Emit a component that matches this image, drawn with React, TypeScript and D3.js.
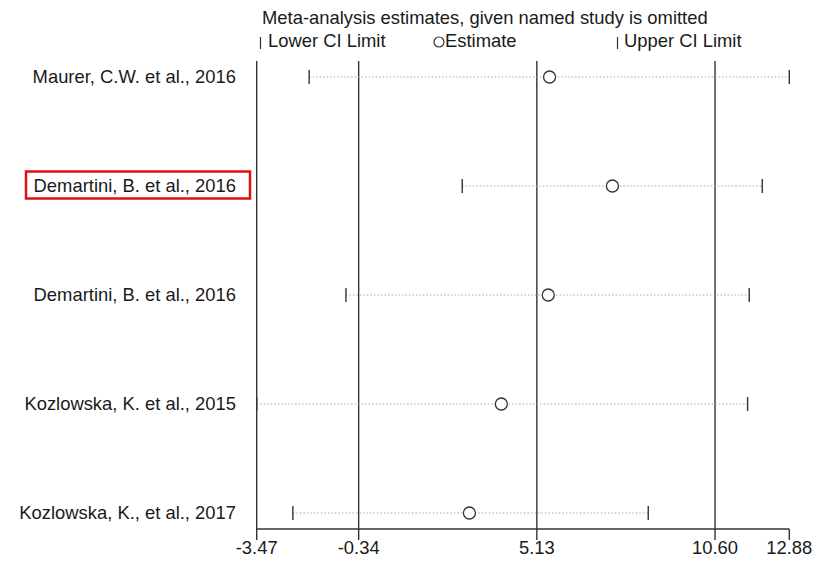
import React from "react";
import * as d3 from "d3";

const studies = [
  "Maurer, C.W. et al., 2016",
  "Demartini, B. et al., 2016",
  "Demartini, B. et al., 2016",
  "Kozlowska, K. et al., 2015",
  "Kozlowska, K., et al., 2017",
];
const lowerCI = [-1.86, 2.84, -0.73, -3.47, -2.36];
const estimate = [5.52, 7.45, 5.48, 4.04, 3.06];
const upperCI = [12.88, 12.05, 11.65, 11.6, 8.55];
const tickValues = [-3.47, -0.34, 5.13, 10.6, 12.88];
const refLines = [-3.47, -0.34, 5.13, 10.6];
const highlighted = 1;

const W = 832;
const H = 561;
const FONT = "'Liberation Sans', Arial, sans-serif";
const FS = 18.4;

const fmt = d3
  .formatLocale({ decimal: ".", thousands: ",", grouping: [3], currency: ["", ""], minus: "-" })
  .format(".2f");

export default function App() {
  const x = d3.scaleLinear().domain([-3.47, 12.88]).range([256.7, 789.3]);
  const y = d3
    .scalePoint<number>()
    .domain(studies.map((_, i) => i))
    .range([77, 513]);
  const axisY = 529;
  const topY = 61;
  const textColor = "#1a1a1a";
  const lineColor = "#333";

  return (
    <svg
      width={W}
      height={H}
      style={{ position: "absolute", left: 0, top: 0, background: "#fff" }}
      fontFamily={FONT}
    >
      {/* title */}
      <text x={262} y={24} fontSize={FS} fill={textColor}>
        Meta-analysis estimates, given named study is omitted
      </text>
      {/* legend */}
      <line x1={260.5} x2={260.5} y1={37} y2={49} stroke={lineColor} strokeWidth={1.2} />
      <text x={268} y={47} fontSize={FS} fill={textColor}>
        Lower CI Limit
      </text>
      <circle cx={439} cy={42} r={5} fill="none" stroke={lineColor} strokeWidth={1.2} />
      <text x={445} y={47} fontSize={FS} fill={textColor}>
        Estimate
      </text>
      <line x1={617.5} x2={617.5} y1={37} y2={49} stroke={lineColor} strokeWidth={1.2} />
      <text x={624} y={47} fontSize={FS} fill={textColor}>
        Upper CI Limit
      </text>

      {/* reference vertical lines */}
      {refLines.map((v, i) => (
        <line
          key={"ref" + i}
          x1={x(v)}
          x2={x(v)}
          y1={topY}
          y2={axisY}
          stroke={lineColor}
          strokeWidth={1.4}
        />
      ))}

      {/* axis */}
      <line x1={x(-3.47)} x2={x(12.88)} y1={axisY} y2={axisY} stroke={lineColor} strokeWidth={1.4} />
      {tickValues.map((v, i) => (
        <g key={"t" + i}>
          <line x1={x(v)} x2={x(v)} y1={axisY} y2={axisY + 11} stroke={lineColor} strokeWidth={1.4} />
          <text
            x={x(v)}
            y={axisY + 25}
            fontSize={FS}
            textAnchor="middle"
            fill={textColor}
          >
            {fmt(v)}
          </text>
        </g>
      ))}

      {/* rows */}
      {studies.map((s, i) => {
        const cy = y(i) as number;
        return (
          <g key={"r" + i}>
            <line
              x1={x(lowerCI[i])}
              x2={x(upperCI[i])}
              y1={cy}
              y2={cy}
              stroke="#a8a8a8"
              strokeWidth={1}
              strokeDasharray="1.5,2"
            />
            <line
              x1={x(lowerCI[i])}
              x2={x(lowerCI[i])}
              y1={cy - 7}
              y2={cy + 7}
              stroke={lineColor}
              strokeWidth={1.4}
            />
            <line
              x1={x(upperCI[i])}
              x2={x(upperCI[i])}
              y1={cy - 7}
              y2={cy + 7}
              stroke={lineColor}
              strokeWidth={1.4}
            />
            <circle
              cx={x(estimate[i])}
              cy={cy}
              r={6}
              fill="#fff"
              stroke={lineColor}
              strokeWidth={1.3}
            />
            <text
              x={236}
              y={cy + 6}
              fontSize={FS}
              textAnchor="end"
              fill={textColor}
            >
              {s}
            </text>
            {i === highlighted && (
              <rect
                x={26}
                y={cy - 14.5}
                width={224}
                height={27}
                fill="none"
                stroke="#e01010"
                strokeWidth={2.5}
              />
            )}
          </g>
        );
      })}
    </svg>
  );
}
